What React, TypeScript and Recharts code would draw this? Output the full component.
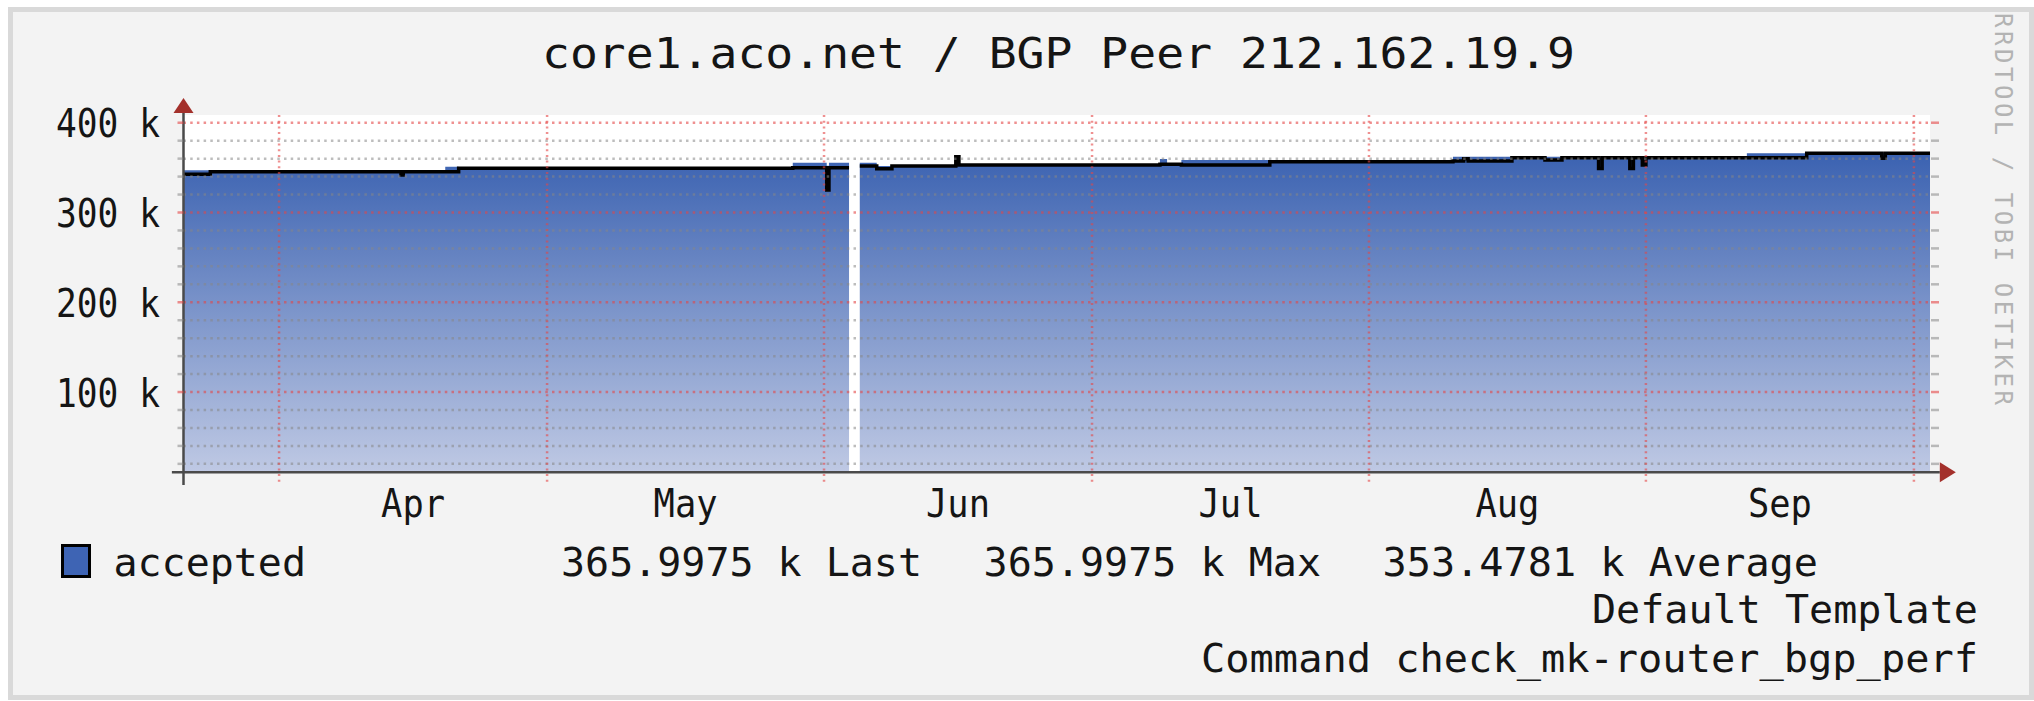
import {
  Area,
  CartesianGrid,
  ComposedChart,
  Line,
  ReferenceDot,
  ReferenceLine,
  XAxis,
  YAxis,
} from "recharts";

// days counted from Apr 1 (0) — step breakpoints
const days = [
  -10.7, -7.7, 13.65, 13.9, 18.6, 20.1, 57.5, 61.3, 61.55, 63.8, 63.85, 65.0,
  66.9, 68.6, 75.75, 76.1, 98.6, 99.4, 101.0, 110.9, 131.4, 132.6, 133.1, 138.0,
  141.7, 143.6, 147.7, 148.1, 151.2, 151.6, 152.6, 153.0, 164.3, 171.0, 179.4,
  179.8, 184.8,
];

// blue area (max)
const areaValues = [
  347000, 345400, 342500, 345400, 351000, 349200, 355400, 352000, 355400,
  355400, null, 355400, 351800, 351800, 352800, 352800, 359600, 353700, 358400,
  356600, 362000, 362000, 362000, 361000, 362000, 361000, 361000, 361000,
  361000, 361000, 361000, 361000, 366000, 366000, 366000, 366000, 366000,
];

// black line (average)
const lineValues = [
  342500, 345400, 341700, 345400, 345400, 349200, 349800, 325000, 349800,
  349800, null, 351800, 348800, 351800, 362000, 352800, 353700, 353700, 352900,
  356600, 357300, 360000, 357300, 361000, 358400, 361000, 349000, 361000,
  349000, 361000, 353000, 361000, 361000, 366000, 360300, 366000, 366000,
];

const monthStarts = [0, 30, 61, 91, 122, 153, 183];
const monthMids = [15, 45.5, 76, 106.5, 137.5, 168];
const monthLabels = ["Apr", "May", "Jun", "Jul", "Aug", "Sep"];

const yTicks = [
  20000, 40000, 60000, 80000, 100000, 120000, 140000, 160000, 180000, 200000,
  220000, 240000, 260000, 280000, 300000, 320000, 340000, 360000, 380000,
  400000,
];

const X_MIN = -10.7;
const X_MAX = 184.8;
const Y_MIN = 10600;
const Y_MAX = 408600;

const rows = days.map((d, i) => ({
  day: d,
  area: areaValues[i],
  line: lineValues[i],
}));

const FONT = "DejaVu Sans Mono";
const RED = "rgba(228,70,70,0.6)";
const GRAY = "rgba(135,135,135,0.55)";
const AXIS = "#4a4a4a";
const ARROW = "#a3302b";

const isMajor = (v: number) => v % 100000 === 0;

function LeftTick({ x, y, payload }: any) {
  const v = payload.value;
  const major = isMajor(v);
  return (
    <g>
      <line x1={x - 6} x2={x} y1={y} y2={y} stroke={major ? RED : GRAY} strokeWidth={2.5} />
      {major && (
        <text
          x={x - 23.5}
          y={y + 14.5}
          textAnchor="end"
          fontFamily={FONT}
          fontSize={39}
          fill="#151515"
          textLength={104}
          lengthAdjust="spacingAndGlyphs"
        >
          {`${v / 1000} k`}
        </text>
      )}
    </g>
  );
}

function RightTick({ x, y, payload }: any) {
  const major = isMajor(payload.value);
  return (
    <line x1={x + 1} x2={x + 9} y1={y} y2={y} stroke={major ? RED : GRAY} strokeWidth={2.5} />
  );
}

function MonthTick({ x, y, payload }: any) {
  const i = monthMids.indexOf(payload.value);
  return (
    <text
      x={x}
      y={y + 44.4}
      textAnchor="middle"
      fontFamily={FONT}
      fontSize={39}
      fill="#151515"
      textLength={64}
      lengthAdjust="spacingAndGlyphs"
    >
      {monthLabels[i]}
    </text>
  );
}

const upArrow = (p: any) => (
  <path d={`M${p.cx - 10},${p.cy} L${p.cx + 10},${p.cy} L${p.cx},${p.cy - 15} Z`} fill={ARROW} />
);
const rightArrow = (p: any) => (
  <path d={`M${p.cx},${p.cy - 10} L${p.cx},${p.cy + 10} L${p.cx + 16},${p.cy} Z`} fill={ARROW} />
);

export default function App() {
  return (
    <div style={{ position: "absolute", left: 0, top: 0, width: 2034, height: 701, background: "#fff" }}>
      <div
        style={{
          position: "absolute",
          left: 8,
          top: 7,
          width: 2026,
          height: 693,
          boxSizing: "border-box",
          border: "5px solid #d9d9d9",
          background: "#f3f3f3",
        }}
      />
      <div style={{ position: "absolute", left: 0, top: 0 }}>
        <ComposedChart
          width={2034}
          height={701}
          data={rows}
          margin={{ top: 115, right: 94, bottom: 178.7, left: 10 }}
        >
          <defs>
            <linearGradient id="accGrad" x1="0" y1="0" x2="0" y2="1">
              <stop offset="0%" stopColor="#3b62b1" />
              <stop offset="100%" stopColor="#bfc9e4" />
            </linearGradient>
          </defs>
          <CartesianGrid yAxisId="left" horizontal={false} vertical={false} fill="#ffffff" fillOpacity={1} stroke="none" />
          <XAxis
            dataKey="day"
            type="number"
            domain={[X_MIN, X_MAX]}
            allowDataOverflow
            ticks={monthMids}
            interval={0}
            tick={<MonthTick />}
            axisLine={false}
            tickLine={false}
            tickSize={0}
            tickMargin={0}
            height={50}
          />
          <YAxis
            yAxisId="left"
            type="number"
            domain={[Y_MIN, Y_MAX]}
            allowDataOverflow
            ticks={yTicks}
            interval={0}
            tick={<LeftTick />}
            axisLine={false}
            tickLine={false}
            tickSize={0}
            tickMargin={0}
            width={173.5}
          />
          <YAxis
            yAxisId="right"
            orientation="right"
            type="number"
            domain={[Y_MIN, Y_MAX]}
            allowDataOverflow
            ticks={yTicks}
            interval={0}
            tick={<RightTick />}
            axisLine={false}
            tickLine={false}
            tickSize={0}
            tickMargin={0}
            width={10}
          />
          <Area
            yAxisId="left"
            type="stepAfter"
            dataKey="area"
            stroke="none"
            fill="url(#accGrad)"
            fillOpacity={1}
            connectNulls={false}
            isAnimationActive={false}
          />
          <Line
            yAxisId="left"
            type="stepAfter"
            dataKey="line"
            stroke="#000"
            strokeWidth={3.5}
            dot={false}
            connectNulls={false}
            isAnimationActive={false}
          />
          {yTicks.map((v) => (
            <ReferenceLine
              key={`h${v}`}
              yAxisId="left"
              y={v}
              stroke={isMajor(v) ? RED : GRAY}
              strokeWidth={2.5}
              strokeDasharray="2.5 4.2"
            />
          ))}
          {monthStarts.map((m) => (
            <ReferenceLine
              key={`v${m}`}
              yAxisId="left"
              segment={[
                { x: m, y: 0 },
                { x: m, y: Y_MAX },
              ]}
              ifOverflow="visible"
              stroke={RED}
              strokeWidth={2.5}
              strokeDasharray="2 3.7"
            />
          ))}
          <ReferenceLine
            yAxisId="left"
            segment={[
              { x: X_MIN, y: -3500 },
              { x: X_MIN, y: 410800 },
            ]}
            ifOverflow="visible"
            stroke={AXIS}
            strokeWidth={2.5}
          />
          <ReferenceLine
            yAxisId="left"
            segment={[
              { x: -12, y: Y_MIN },
              { x: 185.9, y: Y_MIN },
            ]}
            ifOverflow="visible"
            stroke={AXIS}
            strokeWidth={2.5}
          />
          <ReferenceDot yAxisId="left" x={X_MIN} y={410800} ifOverflow="visible" shape={upArrow} />
          <ReferenceDot yAxisId="left" x={185.9} y={Y_MIN} ifOverflow="visible" shape={rightArrow} />
        </ComposedChart>
      </div>
      <svg
        width={2034}
        height={701}
        style={{ position: "absolute", left: 0, top: 0, pointerEvents: "none" }}
        fontFamily={FONT}
      >
        <text x={542} y={68.3} fontSize={43} fill="#151515" textLength={1033} lengthAdjust="spacingAndGlyphs">
          core1.aco.net / BGP Peer 212.162.19.9
        </text>
        <rect x={62.5} y={545.5} width={27} height={31} fill="#3e64b4" stroke="#000" strokeWidth={3} />
        <text x={113.5} y={576} fontSize={39} fill="#151515" textLength={192.5} lengthAdjust="spacingAndGlyphs">
          accepted
        </text>
        <text x={561} y={576} fontSize={39} fill="#151515" textLength={361} lengthAdjust="spacingAndGlyphs">
          365.9975 k Last
        </text>
        <text x={983.6} y={576} fontSize={39} fill="#151515" textLength={337.4} lengthAdjust="spacingAndGlyphs">
          365.9975 k Max
        </text>
        <text x={1382.6} y={576} fontSize={39} fill="#151515" textLength={435.4} lengthAdjust="spacingAndGlyphs">
          353.4781 k Average
        </text>
        <text x={1978} y={623.3} fontSize={39} fill="#151515" textAnchor="end" textLength={386} lengthAdjust="spacingAndGlyphs">
          Default Template
        </text>
        <text x={1978} y={671.7} fontSize={39} fill="#151515" textAnchor="end" textLength={777} lengthAdjust="spacingAndGlyphs">
          Command check_mk-router_bgp_perf
        </text>
        <text
          transform="translate(1995,13) rotate(90)"
          fontSize={24}
          fill="#b3b3b3"
          textLength={392}
          lengthAdjust="spacing"
        >
          RRDTOOL / TOBI OETIKER
        </text>
      </svg>
    </div>
  );
}
